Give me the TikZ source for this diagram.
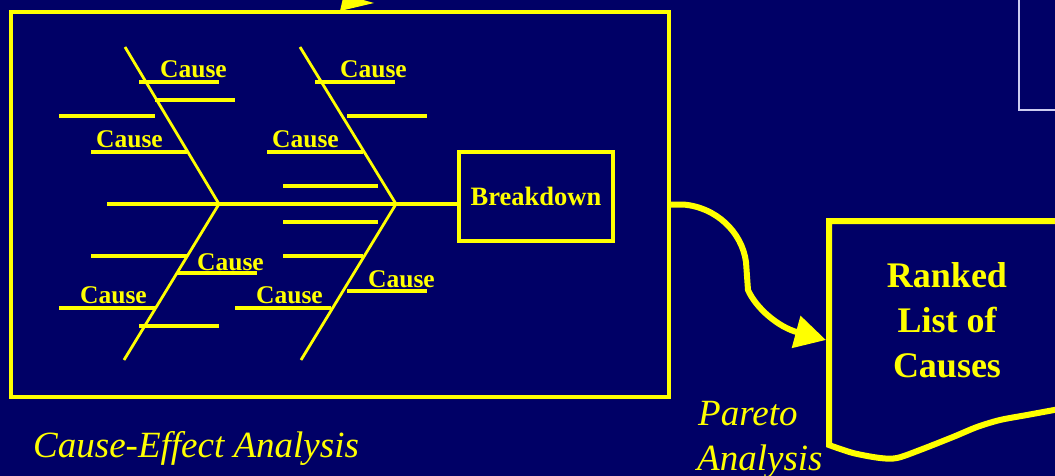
\documentclass[tikz,border=0pt]{standalone}
\usepackage{fontspec}
\setmainfont{Liberation Serif}
\usetikzlibrary{arrows.meta}
\definecolor{navy}{RGB}{0,0,102}
\definecolor{ylw}{RGB}{255,255,0}
\definecolor{lav}{RGB}{204,204,240}
\begin{document}
\begin{tikzpicture}[x=1pt,y=-1pt,
  bone/.style={ylw,line width=2.8pt},
  rib/.style={ylw,line width=3.3pt},
  cause/.style={text=ylw,font=\fontsize{25.5}{30}\selectfont\bfseries,inner sep=0pt,anchor=base west},
  lbl/.style={text=ylw,font=\fontsize{37}{45}\selectfont\itshape,inner sep=0pt,anchor=base west}]
\fill[navy] (0,0) rectangle (1055,476);
\useasboundingbox (0,0) rectangle (1055,476);
\clip (0,0) rectangle (1055,476);

% top-right frame fragment
\draw[lav,line width=2pt] (1019,-5) -- (1019,110) -- (1060,110);
% arrow tip entering from above
\fill[ylw] (340,11) -- (343,-2) -- (356,-2) -- (374,3) -- cycle;

% main frame
\node[draw=ylw,line width=3.8pt,minimum width=658pt,minimum height=385pt,inner sep=0pt] (frame) at (340,204.5) {};

% breakdown box
\node[draw=ylw,line width=3.5pt,minimum width=154pt,minimum height=89pt,inner sep=0pt,text=ylw,font=\fontsize{26.5}{30}\selectfont\bfseries] (bd) at (536,196.5) {Breakdown};

% fishbone
\coordinate (j1) at (219,204);
\coordinate (j2) at (396,204);
\coordinate (sp) at (107,204);
\draw[rib] (sp) -- (sp -| bd.west);
\draw[bone] (125,47) -- (j1) -- (124,360);
\draw[bone] (300,47) -- (j2) -- (301,360);

\draw[rib] (139,82) -- (219,82);
\draw[rib] (155,100) -- (235,100);
\draw[rib] (59,116) -- (155,116);
\draw[rib] (91,152) -- (187,152);
\draw[rib] (315,82) -- (395,82);
\draw[rib] (347,116) -- (427,116);
\draw[rib] (267,152) -- (363,152);
\draw[rib] (283,186) -- (378,186);
\draw[rib] (91,256) -- (187,256);
\draw[rib] (177,273) -- (257,273);
\draw[rib] (59,308) -- (155,308);
\draw[rib] (139,326) -- (219,326);
\draw[rib] (283,222) -- (378,222);
\draw[rib] (283,256) -- (363,256);
\draw[rib] (347,291) -- (427,291);
\draw[rib] (235,308) -- (331,308);

\node[cause] (c1) at (160,78) {Cause};
\node[cause] (c2) at (96,148) {Cause};
\node[cause] (c3) at (340,78) {Cause};
\node[cause] (c4) at (272,148) {Cause};
\node[cause] (c5) at (197,270) {Cause};
\node[cause] (c6) at (80,303) {Cause};
\node[cause] (c7) at (368,287) {Cause};
\node[cause] (c8) at (256,303) {Cause};

% ranked list box
\draw[ylw,line width=6pt,line join=miter] (1065,221) -- (829,221) -- plot[smooth] coordinates {(829,445) (853,453) (880,458) (897,458) (920,450) (953,437) (977,427) (1000,420) (1027,415) (1065,408)};
\node[text=ylw,font=\fontsize{36}{45}\selectfont\bfseries,align=center,inner sep=0pt,anchor=north] (rk) at (947,262) {Ranked\\List of\\Causes};

% curved arrow
\coordinate (tip) at (826,340);
\draw[ylw,line width=6pt,-{Triangle[length=31pt,width=32pt]}] (frame.east) -- ++(12,0) .. controls (716,207) and (742,232) .. (746,262) -- (748,290) .. controls (756,308) and (778,327) .. (tip);

% labels
\node[lbl] (cea) at (33,457) {Cause-Effect Analysis};
\node[lbl] (p1) at (698,425) {Pareto};
\node[lbl] (p2) at (697,470) {Analysis};
\end{tikzpicture}
\end{document}
